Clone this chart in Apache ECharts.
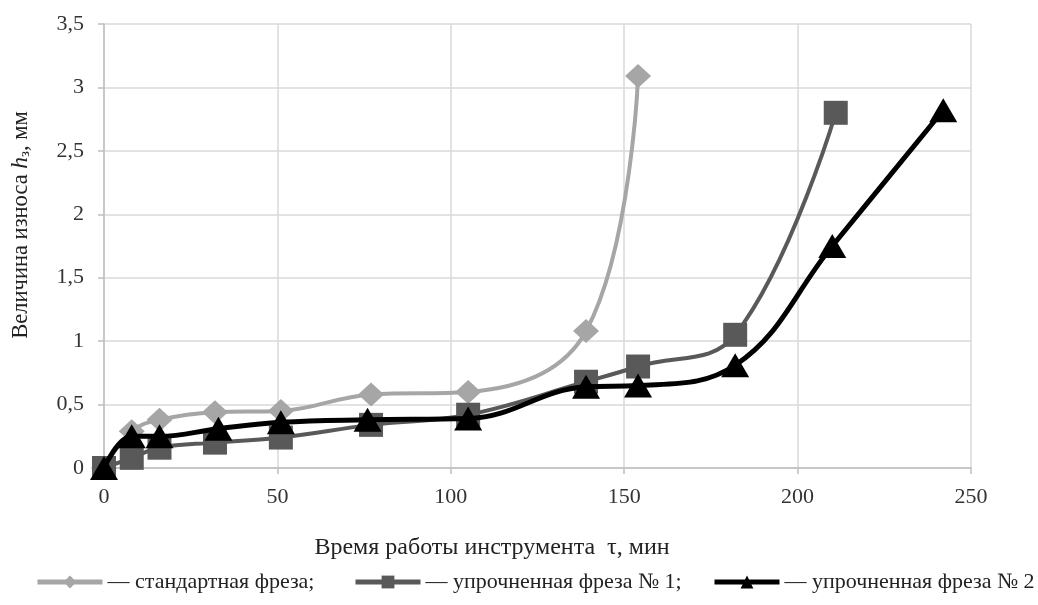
<!DOCTYPE html>
<html><head><meta charset="utf-8">
<script src="https://cdn.jsdelivr.net/npm/echarts@6/dist/echarts.min.js"></script>
<style>html,body{margin:0;padding:0;background:#fff}#c{width:1038px;height:605px}</style>
</head><body><div id="c"></div>
<script>
const xTicks = [0, 50, 100, 150, 200, 250];
const yTicks = [0, 0.5, 1, 1.5, 2, 2.5, 3, 3.5];
const seriesNames = ['стандартная фреза', 'упрочненная фреза № 1', 'упрочненная фреза № 2'];
const xTitle = 'Время работы инструмента  τ, мин';
const yTitle = 'Величина износа {i|h}{s|з}, мм';
const timeStd = [0, 8, 16, 32, 51, 77, 105, 139, 154];
const wearStd = [0, 0.29, 0.38, 0.44, 0.45, 0.58, 0.6, 1.08, 3.09];
const timeH1 = [0, 8, 16, 32, 51, 77, 105, 139, 154, 182, 211];
const wearH1 = [0, 0.08, 0.16, 0.2, 0.24, 0.34, 0.42, 0.68, 0.8, 1.05, 2.8];
const timeH2 = [0, 8, 16, 33, 51, 76, 105, 139, 154, 182, 210, 242];
const wearH2 = [0, 0.25, 0.25, 0.31, 0.36, 0.38, 0.39, 0.64, 0.65, 0.81, 1.75, 2.82];

const zip = (a, b) => a.map((v, i) => [v, b[i]]);
const fam = '"Liberation Serif", "Times New Roman", serif';
const txt = '#222';
const legendCommon = {
  bottom: 12, padding: 0, itemWidth: 65, itemHeight: 16, itemGap: 0,
  textStyle: { fontFamily: fam, fontSize: 22, color: txt },
  lineStyle: { width: 5 }
};
const chart = echarts.init(document.getElementById('c'));
chart.setOption({
  animation: false,
  textStyle: { fontFamily: fam },
  grid: { left: 104, right: 67, top: 24, bottom: 137, outerBoundsMode: 'none', containLabel: false },
  xAxis: {
    type: 'value', min: 0, max: 250, interval: 50,
    axisLine: { show: true, lineStyle: { color: '#bfbfbf', width: 1.5 } },
    axisTick: { show: true, length: 6, lineStyle: { color: '#bfbfbf', width: 1.5 } },
    axisLabel: { fontFamily: fam, fontSize: 22, color: '#333', margin: 18,
      formatter: v => xTicks.includes(v) ? String(v) : '' },
    splitLine: { show: true, lineStyle: { color: '#d9d9d9', width: 1.5 } }
  },
  yAxis: {
    type: 'value', min: 0, max: 3.5, interval: 0.5,
    axisLine: { show: true, lineStyle: { color: '#bfbfbf', width: 1.5 } },
    axisTick: { show: true, length: 6, lineStyle: { color: '#bfbfbf', width: 1.5 } },
    axisLabel: { fontFamily: fam, fontSize: 22, color: '#333', margin: 20,
      formatter: v => yTicks.includes(v) ? String(v).replace('.', ',') : '' },
    splitLine: { show: true, lineStyle: { color: '#d9d9d9', width: 1.5 } }
  },
  graphic: [
    { type: 'text', x: 492, y: 548, silent: true,
      style: { text: xTitle, fontFamily: fam, fontSize: 24, fill: txt,
        textAlign: 'center', textVerticalAlign: 'middle' } },
    { type: 'text', x: 21, y: 225, rotation: Math.PI / 2, silent: true,
      style: { text: yTitle, fontFamily: fam, fontSize: 22.5, fill: txt,
        textAlign: 'center', textVerticalAlign: 'middle',
        rich: { i: { fontFamily: fam, fontSize: 23.5, fontStyle: 'italic', fill: txt },
                s: { fontFamily: fam, fontSize: 15, fill: txt, padding: [9, 0, 0, 0] } } } }
  ],
  legend: [
    Object.assign({}, legendCommon, { left: 35, data: [seriesNames[0]], formatter: n => '— ' + n + ';' }),
    Object.assign({}, legendCommon, { left: 353, data: [seriesNames[1]], formatter: n => '— ' + n + ';' }),
    Object.assign({}, legendCommon, { left: 712, data: [seriesNames[2]], formatter: n => '— ' + n })
  ],
  series: [
    { name: seriesNames[0], type: 'line', smooth: 0.4, data: zip(timeStd, wearStd),
      symbol: 'diamond', symbolSize: [26, 24], itemStyle: { color: '#a6a6a6' },
      lineStyle: { color: '#a6a6a6', width: 4 }, z: 2 },
    { name: seriesNames[1], type: 'line', smooth: 0.4, data: zip(timeH1, wearH1),
      symbol: 'rect', symbolSize: 24, itemStyle: { color: '#595959' },
      lineStyle: { color: '#595959', width: 4 }, z: 3 },
    { name: seriesNames[2], type: 'line', smooth: 0.4, data: zip(timeH2, wearH2),
      symbol: 'triangle', symbolSize: [28, 24], itemStyle: { color: '#000' },
      lineStyle: { color: '#000', width: 5 }, z: 4 }
  ]
});
</script></body></html>
